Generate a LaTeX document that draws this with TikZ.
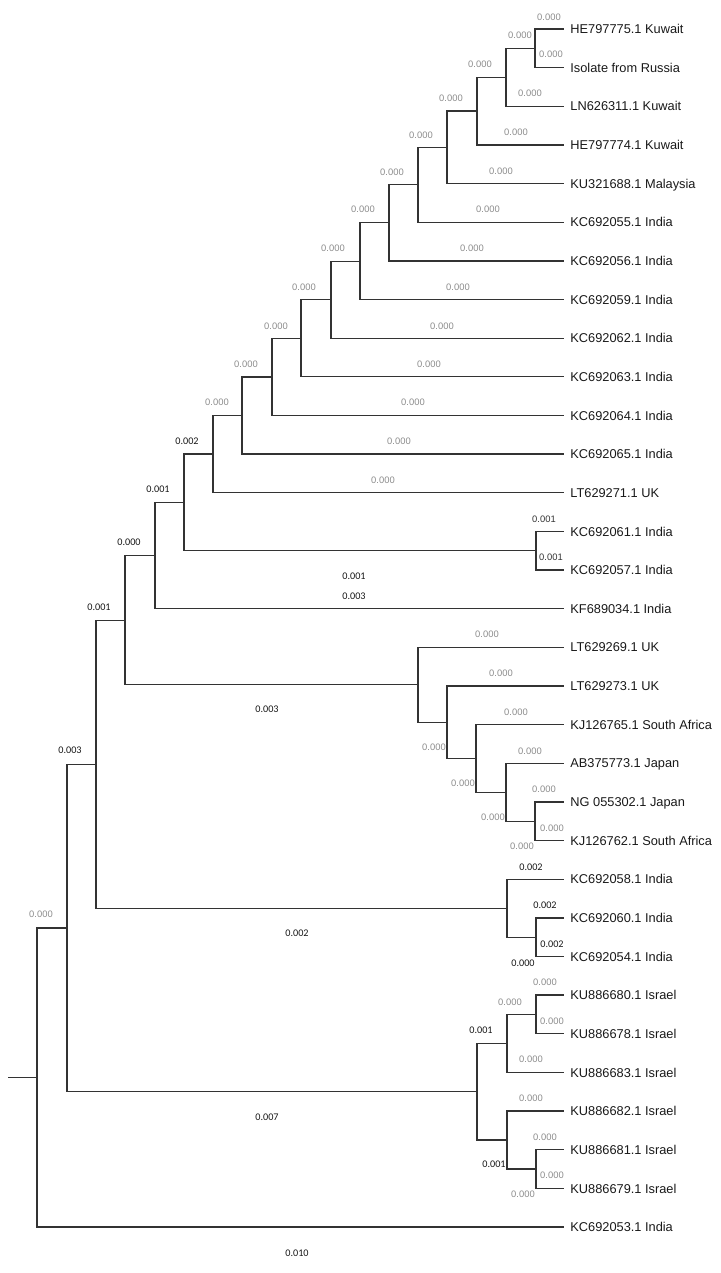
\documentclass[tikz,border=0pt]{standalone}
\usepackage{fontspec}
\setmainfont{Liberation Sans}
\newfontfamily\carlito{Carlito}
\usepackage{tikz}

\begin{document}
\begin{tikzpicture}[x=0.5pt,y=-0.5pt,
  branch/.style={draw=black!80,line width=0.65pt},
  taxon/.style={anchor=west,inner xsep=3pt,inner ysep=0pt,text height=4.6pt,text depth=0pt,
    font=\fontsize{6.4}{7}\selectfont,text=black!90},
  blen/.style={inner sep=0pt,font=\fontsize{4.7}{5}\selectfont,text=black!45},
  blenk/.style={inner sep=0pt,font=\carlito\fontsize{5.1}{6}\selectfont,text=black!90}]
  \useasboundingbox (0,0) rectangle (721,1273);
  % taxa
  \node[taxon] (he75) at (564,29.0) {HE797775.1 Kuwait};
  \node[taxon] (rus) at (564,67.6) {Isolate from Russia};
  \node[taxon] (ln11) at (564,106.3) {LN626311.1 Kuwait};
  \node[taxon] (he74) at (564,144.9) {HE797774.1 Kuwait};
  \node[taxon] (ku88) at (564,183.6) {KU321688.1 Malaysia};
  \node[taxon] (kc55) at (564,222.2) {KC692055.1 India};
  \node[taxon] (kc56) at (564,260.9) {KC692056.1 India};
  \node[taxon] (kc59) at (564,299.5) {KC692059.1 India};
  \node[taxon] (kc62) at (564,338.2) {KC692062.1 India};
  \node[taxon] (kc63) at (564,376.8) {KC692063.1 India};
  \node[taxon] (kc64) at (564,415.5) {KC692064.1 India};
  \node[taxon] (kc65) at (564,454.1) {KC692065.1 India};
  \node[taxon] (lt71) at (564,492.7) {LT629271.1 UK};
  \node[taxon] (kc61) at (564,531.4) {KC692061.1 India};
  \node[taxon] (kc57) at (564,570.0) {KC692057.1 India};
  \node[taxon] (kf34) at (564,608.7) {KF689034.1 India};
  \node[taxon] (lt69) at (564,647.3) {LT629269.1 UK};
  \node[taxon] (lt73) at (564,686.0) {LT629273.1 UK};
  \node[taxon] (kj65) at (564,724.6) {KJ126765.1 South Africa};
  \node[taxon] (ab73) at (564,763.3) {AB375773.1 Japan};
  \node[taxon] (ng02) at (564,801.9) {NG 055302.1 Japan};
  \node[taxon] (kj62) at (564,840.6) {KJ126762.1 South Africa};
  \node[taxon] (kc58) at (564,879.2) {KC692058.1 India};
  \node[taxon] (kc60) at (564,917.9) {KC692060.1 India};
  \node[taxon] (kc54) at (564,956.5) {KC692054.1 India};
  \node[taxon] (ku80) at (564,995.1) {KU886680.1 Israel};
  \node[taxon] (ku78) at (564,1033.8) {KU886678.1 Israel};
  \node[taxon] (ku83) at (564,1072.4) {KU886683.1 Israel};
  \node[taxon] (ku82) at (564,1111.1) {KU886682.1 Israel};
  \node[taxon] (ku81) at (564,1149.7) {KU886681.1 Israel};
  \node[taxon] (ku79) at (564,1188.4) {KU886679.1 Israel};
  \node[taxon] (kc53) at (564,1227.0) {KC692053.1 India};
  % internal nodes
  \coordinate (c1) at (535,48.3);    \coordinate (c2) at (506,77.3);
  \coordinate (c3) at (477,111.1);   \coordinate (c4) at (447,147.35);
  \coordinate (c5) at (418,184.8);   \coordinate (c6) at (389,222.85);
  \coordinate (c7) at (360,261.2);   \coordinate (c8) at (331,299.7);
  \coordinate (c9) at (301,338.25);  \coordinate (c10) at (272,376.9);
  \coordinate (c11) at (242,415.5);  \coordinate (c12) at (213,454.1);
  \coordinate (c13) at (536,550.7);  \coordinate (c14) at (184,502.4);
  \coordinate (c15) at (155,555.55); \coordinate (c16) at (535,821.25);
  \coordinate (c17) at (506,792.3);  \coordinate (c18) at (476,758.45);
  \coordinate (c19) at (447,722.2);  \coordinate (c20) at (418,684.75);
  \coordinate (c21) at (125,620.15); \coordinate (c22) at (536,937.2);
  \coordinate (c23) at (507,908.2);  \coordinate (c24) at (96,764.2);
  \coordinate (c25) at (536,1014.45);\coordinate (c26) at (507,1043.4);
  \coordinate (c27) at (536,1169.05);\coordinate (c28) at (507,1140.1);
  \coordinate (c29) at (477,1091.75);\coordinate (c30) at (67,927.95);
  \coordinate (root) at (37,1077.5); \coordinate (stub) at (8,1077.5);
  % branches
  \draw[branch] (c1) |- (he75) (c1) |- (rus);
  \draw[branch] (c2) |- (c1) (c2) |- (ln11);
  \draw[branch] (c3) |- (c2) (c3) |- (he74);
  \draw[branch] (c4) |- (c3) (c4) |- (ku88);
  \draw[branch] (c5) |- (c4) (c5) |- (kc55);
  \draw[branch] (c6) |- (c5) (c6) |- (kc56);
  \draw[branch] (c7) |- (c6) (c7) |- (kc59);
  \draw[branch] (c8) |- (c7) (c8) |- (kc62);
  \draw[branch] (c9) |- (c8) (c9) |- (kc63);
  \draw[branch] (c10) |- (c9) (c10) |- (kc64);
  \draw[branch] (c11) |- (c10) (c11) |- (kc65);
  \draw[branch] (c12) |- (c11) (c12) |- (lt71);
  \draw[branch] (c13) |- (kc61) (c13) |- (kc57);
  \draw[branch] (c14) |- (c12) (c14) |- (c13);
  \draw[branch] (c15) |- (c14) (c15) |- (kf34);
  \draw[branch] (c16) |- (ng02) (c16) |- (kj62);
  \draw[branch] (c17) |- (ab73) (c17) |- (c16);
  \draw[branch] (c18) |- (kj65) (c18) |- (c17);
  \draw[branch] (c19) |- (lt73) (c19) |- (c18);
  \draw[branch] (c20) |- (lt69) (c20) |- (c19);
  \draw[branch] (c21) |- (c15) (c21) |- (c20);
  \draw[branch] (c22) |- (kc60) (c22) |- (kc54);
  \draw[branch] (c23) |- (kc58) (c23) |- (c22);
  \draw[branch] (c24) |- (c21) (c24) |- (c23);
  \draw[branch] (c25) |- (ku80) (c25) |- (ku78);
  \draw[branch] (c26) |- (c25) (c26) |- (ku83);
  \draw[branch] (c27) |- (ku81) (c27) |- (ku79);
  \draw[branch] (c28) |- (ku82) (c28) |- (c27);
  \draw[branch] (c29) |- (c26) (c29) |- (c28);
  \draw[branch] (c30) |- (c24) (c30) |- (c29);
  \draw[branch] (root) |- (c30) (root) |- (kc53);
  \draw[branch] (stub) -- (root);
  % branch lengths, grey
  \foreach \x/\y [count=\i] in {549/17,520/35,551/54,480/64,530/93,451/98,516/132,421/135,
      501/171,392/172,488/209,363/209,472/248,333/248,458/287,304/287,442/326,276/326,
      429/364,246/364,413/402,217/402,399/441,383/480,41/914,
      487/634,501/673,516/712,434/747,530/751,463/783,544/789,493/817,552/828,522/846,
      545/982,510/1002,552/1021,531/1059,531/1098,545/1137,552/1175,523/1194}
    \node[blen] (g\i) at (\x,\y) {0.000};
  % branch lengths, black
  \node[blenk] (k1) at (187,441) {0.002};
  \node[blenk] (k2) at (158,489) {0.001};
  \node[blenk] (k3) at (129,542) {0.000};
  \node[blenk] (k4) at (99,607) {0.001};
  \node[blenk] (k5) at (70,750) {0.003};
  \node[blenk] (k6) at (354,576) {0.001};
  \node[blenk] (k7) at (354,596) {0.003};
  \node[blenk] (k8) at (267,709) {0.003};
  \node[blenk] (k9) at (297,933) {0.002};
  \node[blenk] (k10) at (267,1117) {0.007};
  \node[blenk] (k11) at (297,1253) {0.010};
  \node[blenk] (k12) at (531,867) {0.002};
  \node[blenk] (k13) at (545,905) {0.002};
  \node[blenk] (k14) at (552,944) {0.002};
  \node[blenk] (k15) at (523,963) {0.000};
  \node[blenk] (k16) at (481,1030) {0.001};
  \node[blenk] (k17) at (494,1164) {0.001};
  \node[blen,text=black!80] (k18) at (544,519) {0.001};
  \node[blen,text=black!80] (k19) at (551,557) {0.001};
\end{tikzpicture}
\end{document}
